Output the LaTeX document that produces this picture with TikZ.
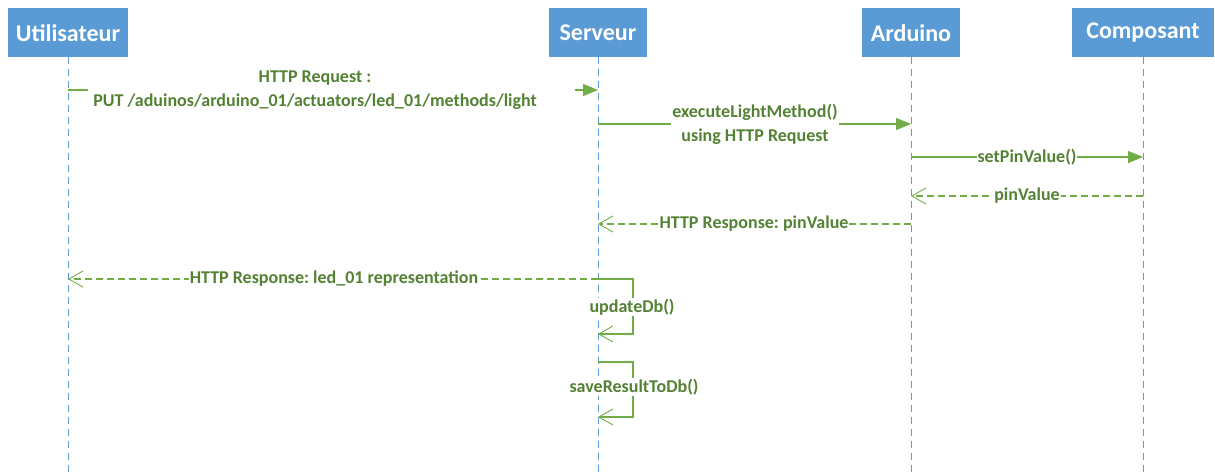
\documentclass[tikz,border=0pt]{standalone}
\usepackage{fontspec}
\setmainfont{Carlito}
\usetikzlibrary{arrows.meta}
\definecolor{hdr}{HTML}{5B9BD5}
\definecolor{msg}{HTML}{70AD47}
\definecolor{msgtxt}{HTML}{548235}
\frenchspacing
\tikzset{
  header/.style={fill=hdr, text=white, font=\fontsize{24}{26}\selectfont\bfseries, minimum height=49pt, inner sep=0pt, anchor=north},
  lifeline/.style={draw=hdr, line width=0.9pt, dash pattern=on 7pt off 5pt},
  call/.style={draw=msg, line width=1.1pt, -{Triangle[length=15pt,width=12pt]}},
  plain/.style={draw=msg, line width=1.1pt},
  reply/.style={draw=msg, line width=1.1pt, dash pattern=on 7pt off 4pt, -{Straight Barb[length=14pt,width=16pt,line width=0.9pt]}},
  selfret/.style={draw=msg, line width=1.1pt, -{Straight Barb[length=14pt,width=16pt,line width=0.9pt]}},
  lbl/.style={fill=white, text=msgtxt, font=\fontsize{18}{24}\selectfont\bfseries, align=center, inner sep=1pt}
}
\begin{document}
\begin{tikzpicture}[x=1pt,y=-1pt]
\useasboundingbox (0,0) rectangle (1215,476);
% headers
\node[header, minimum width=120pt] (U) at (68,8) {Utilisateur};
\node[header, minimum width=98pt] (S) at (598,8) {Serveur};
\node[header, minimum width=98pt] (A) at (911,8) {Arduino};
\node[header, minimum width=142pt] (C) at (1143,8) {Composant};
% lifeline ends
\coordinate (Ue) at (68,476);
\coordinate (Se) at (598,476);
\coordinate (Ae) at (911,476);
\coordinate (Ce) at (1143,476);
\draw[lifeline] (U.south) -- (Ue);
\draw[lifeline] (S.south) -- (Se);
\draw[lifeline] (A.south) -- (Ae);
\draw[lifeline] (C.south) -- (Ce);
% message 1
\coordinate (m1a) at (68,90);
\coordinate (m1b) at (88,90);
\coordinate (m1c) at (575,90);
\coordinate (m1d) at (598,90);
\draw[plain] (m1a) -- (m1b);
\draw[call] (m1c) -- (m1d);
\node[lbl] (l1) at (315,90) {HTTP Request :\\PUT /aduinos/arduino\_01/actuators/led\_01/methods/light};
% message 2
\coordinate (m2a) at (598,124);
\coordinate (m2b) at (911,124);
\draw[call] (m2a) -- (m2b);
\node[lbl] (l2) at (755,124) {executeLightMethod()\\using HTTP Request};
% message 3
\coordinate (m3a) at (911,157);
\coordinate (m3b) at (1143,157);
\draw[call] (m3a) -- (m3b);
\node[lbl] (l3) at (1027,157) {setPinValue()};
% message 4
\coordinate (m4a) at (1143,196);
\coordinate (m4b) at (911,196);
\draw[reply] (m4a) -- (m4b);
\node[lbl] (l4) at (1027,196) {pinValue};
% message 5
\coordinate (m5a) at (911,224);
\coordinate (m5b) at (598,224);
\draw[reply] (m5a) -- (m5b);
\node[lbl] (l5) at (754,224) {HTTP Response: pinValue};
% message 6
\coordinate (m6a) at (598,279);
\coordinate (m6b) at (68,279);
\draw[reply] (m6a) -- (m6b);
\node[lbl] (l6) at (334,279) {HTTP Response: led\_01 representation};
% self updateDb
\coordinate (s1a) at (598,279);
\coordinate (s1b) at (633,279);
\coordinate (s1c) at (633,334);
\coordinate (s1d) at (598,334);
\draw[selfret] (s1a) -- (s1b) -- (s1c) -- (s1d);
\node[lbl] (l7) at (632,307) {updateDb()};
% self saveResultToDb
\coordinate (s2a) at (598,362);
\coordinate (s2b) at (633,362);
\coordinate (s2c) at (633,417);
\coordinate (s2d) at (598,417);
\draw[selfret] (s2a) -- (s2b) -- (s2c) -- (s2d);
\node[lbl] (l8) at (634,387) {saveResultToDb()};
\end{tikzpicture}
\end{document}
